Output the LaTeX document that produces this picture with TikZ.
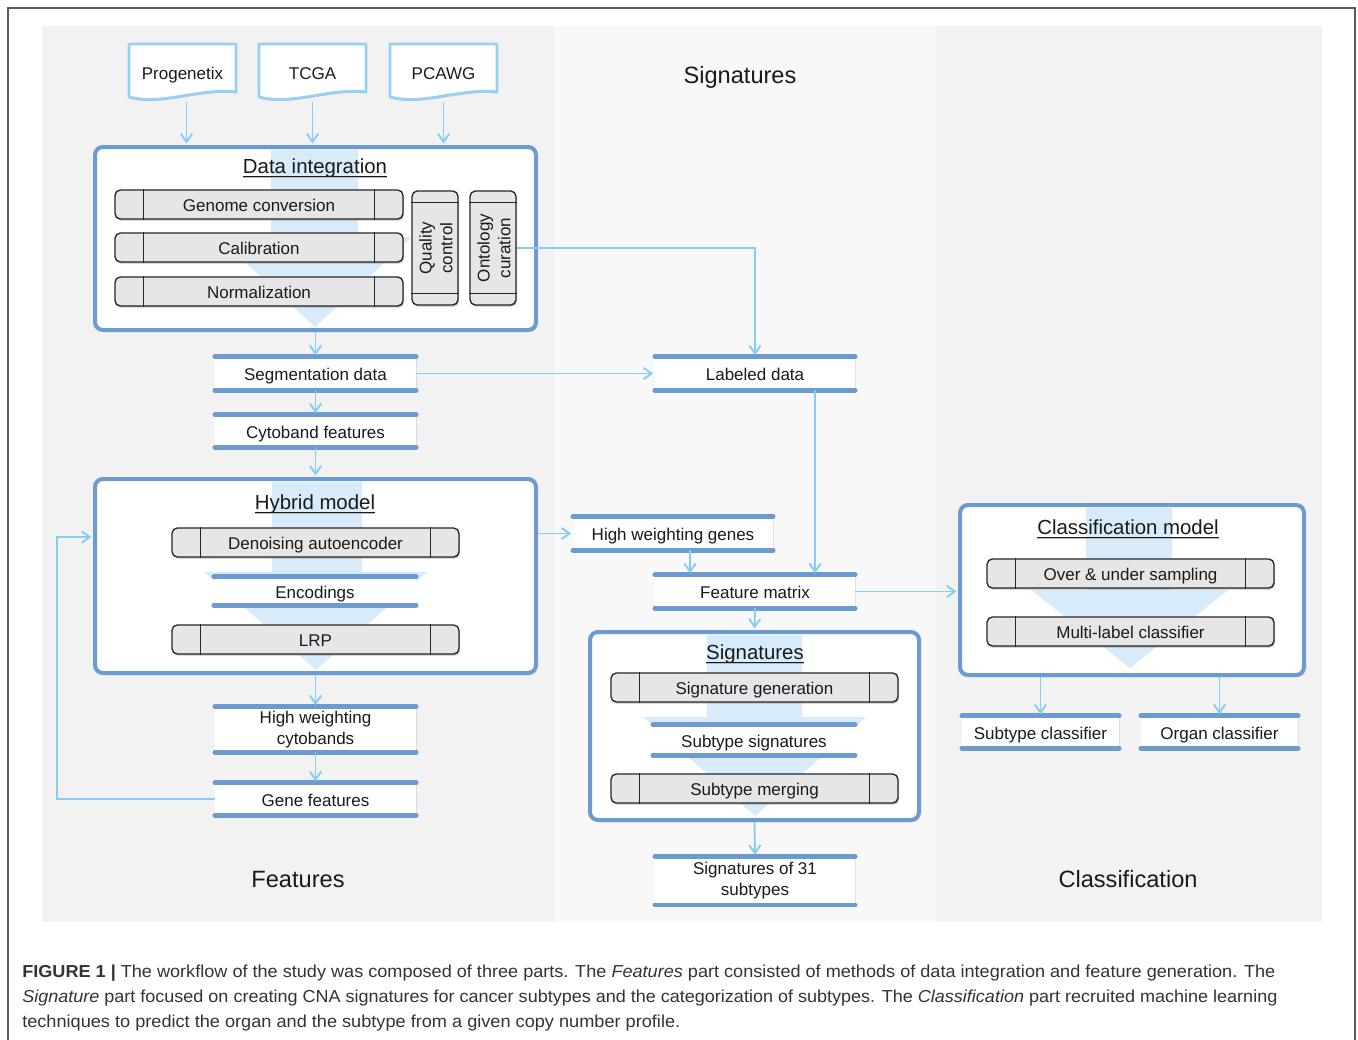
\documentclass[tikz,border=0pt]{standalone}
\usepackage{graphicx}
\usepackage{fontspec}
\setmainfont{Liberation Sans}
\usetikzlibrary{arrows.meta,shadows,calc}
\definecolor{panelA}{HTML}{F2F2F2}
\definecolor{panelB}{HTML}{F8F8F8}
\definecolor{cblue}{HTML}{6C9BD2}
\definecolor{arrblue}{HTML}{86CCF4}
\definecolor{bgarrow}{HTML}{D8EBFA}
\definecolor{docblue}{HTML}{96D0F3}
\definecolor{procgray}{HTML}{E6E6E6}
\definecolor{txt}{HTML}{1A1A1A}
\definecolor{captxt}{HTML}{333333}
\def\u{0.75pt}
\newcommand\dgbody{\fontsize{12.75}{15.6}\selectfont}
\newcommand\dgtitle{\fontsize{15.3}{18}\selectfont}
\newcommand\dgpanel{\fontsize{17.7}{21}\selectfont}
\newcommand\dgcap{\fontsize{13}{15}\selectfont}
\tikzset{
  arr/.style={draw=arrblue, line width=1.4pt, -{Straight Barb[length=6pt,width=8.5pt]}, shorten >=1.2pt},
  cont/.style={draw=cblue, line width=3pt, rounded corners=6pt, fill=white, inner sep=0,
    drop shadow={shadow xshift=1.2pt, shadow yshift=-1.5pt, opacity=0.3}},
  oneline/.style={text height=12.5pt, text depth=2pt},
  procn/.style={draw=black!85, line width=1pt, fill=procgray, rounded corners=4pt, inner sep=0,
    font=\dgbody, text=txt, oneline, drop shadow={shadow xshift=0.8pt, shadow yshift=-1.3pt, opacity=0.45}},
  procl/.style={draw=black!85, line width=1pt},
  barn/.style={fill=white, inner sep=0, font=\dgbody, text=txt, align=center,
    drop shadow={shadow xshift=0.8pt, shadow yshift=-1.2pt, opacity=0.18}},
  barnclear/.style={fill=white, inner sep=0, font=\dgbody, text=txt, align=center, oneline},
  barline/.style={draw=cblue, line width=3.4pt, line cap=round},
  docn/.style={inner sep=0, font=\dgbody, text=txt, oneline},
  docline/.style={draw=docblue, line width=2.2pt, fill=white, line join=round,
    drop shadow={shadow xshift=0.8pt, shadow yshift=-1pt, opacity=0.15}},
  ttl/.style={inner sep=0, font=\dgtitle, text=txt, text height=14pt, text depth=2pt},
  ptitle/.style={inner sep=0, font=\dgpanel, text=txt, text height=15.5pt, text depth=2pt},
  bgarr/.style={fill=bgarrow, draw=none},
}
\newcommand\procbox[5]{%
  \node[procn, minimum width=#4*\u, minimum height=29*\u] (#1) at (#2,#3) {#5};
  \draw[procl] ([xshift=29*\u]#1.north west) -- ([xshift=29*\u]#1.south west);
  \draw[procl] ([xshift=-29*\u]#1.north east) -- ([xshift=-29*\u]#1.south east);}
\newcommand\barbox[7][oneline]{%
  \node[barn, #1, minimum width=#5*\u, minimum height=#6*\u] (#2) at (#3,#4) {#7};
  \draw[barline] (#2.north west) -- (#2.north east);
  \draw[barline] (#2.south west) -- (#2.south east);}
\newcommand\barclear[6]{%
  \node[barnclear, minimum width=#4*\u, minimum height=#5*\u] (#1) at (#2,#3) {#6};
  \draw[barline] (#1.north west) -- (#1.north east);
  \draw[barline] (#1.south west) -- (#1.south east);}
\newcommand\docbox[4]{%
  \draw[docline] ({#2-53.5},{#3-28}) -- ({#2+53.5},{#3-28}) -- ({#2+53.5},{#3+20})
    .. controls ({#2+15},{#3+16}) and ({#2-20},{#3+34}) .. ({#2-53.5},{#3+25}) -- cycle;
  \node[docn, minimum width=107*\u, minimum height=56*\u] (#1) at (#2,#3) {#4};}
\newcommand\utitle[4]{%
  \node[ttl] (#1) at (#2,#3) {#4};
  \draw[gray!55, line width=0.8pt] ([yshift=-3.6pt]#1.base west) -- ([yshift=-3.6pt]#1.base east);
  \draw[txt, line width=0.8pt] ([yshift=-2.4pt]#1.base west) -- ([yshift=-2.4pt]#1.base east);}
\begin{document}
\begin{tikzpicture}[x=0.75pt, y=-0.75pt]
\useasboundingbox (0,0) rectangle (1358,1039);
\fill[white] (0,0) rectangle (1358,1039);
\draw[black!65, line width=1.3pt] (8,1045) -- (8,8) -- (1355,8) -- (1355,1045);
% panels
\fill[panelA] (42,26) rectangle (554,922);
\fill[panelB] (554,26) rectangle (936,922);
\fill[panelA] (936,26) rectangle (1322,922);
\node[ptitle] (tsig) at (740,74) {Signatures};
\node[ptitle] (tfeat) at (298,878) {Features};
\node[ptitle] (tcls) at (1128,878) {Classification};
% documents
\docbox{prog}{182.5}{72}{Progenetix}
\docbox{tcga}{312.5}{72}{TCGA}
\docbox{pcawg}{443.5}{72}{PCAWG}
% Data integration
\node[cont, minimum width=441*\u, minimum height=183*\u] (di) at (315.5,238.5) {};
\fill[bgarr] (271,150) -- (358,150) -- (358,237) -- (412,237) -- (315,327) -- (218,237) -- (271,237) -- cycle;
\utitle{dit}{315}{165}{Data integration}
\procbox{gc}{259}{204.5}{288}{Genome conversion}
\procbox{cal}{259}{247.5}{288}{Calibration}
\procbox{nrm}{259}{291.5}{288}{Normalization}
\node[procn, minimum width=46*\u, minimum height=114*\u] (qc) at (435,248) {};
\draw[procl] ([yshift=-12*\u]qc.north west) -- ([yshift=-12*\u]qc.north east);
\draw[procl] ([yshift=12*\u]qc.south west) -- ([yshift=12*\u]qc.south east);
\node[rotate=90, align=center, font=\dgbody, text=txt, inner sep=0] (qct) at (436,248) {Quality\\control};
\node[procn, minimum width=46*\u, minimum height=114*\u] (oc) at (493,248) {};
\draw[procl] ([yshift=-12*\u]oc.north west) -- ([yshift=-12*\u]oc.north east);
\draw[procl] ([yshift=12*\u]oc.south west) -- ([yshift=12*\u]oc.south east);
\node[rotate=90, align=center, font=\dgbody, text=txt, inner sep=0] (oct) at (494,248) {Ontology\\curation};
% bars column features
\barbox{seg}{315.5}{373.5}{201}{33}{Segmentation data}
\barbox{cyto}{315.5}{431}{201}{32}{Cytoband features}
\barbox{lab}{755}{373.5}{200}{33}{Labeled data}
% Hybrid model
\node[cont, minimum width=441*\u, minimum height=194*\u] (hm) at (315.5,576) {};
\fill[bgarr] (272,482) -- (362,482) -- (362,572) -- (427,572) -- (316,670) -- (204,572) -- (272,572) -- cycle;
\utitle{hmt}{315}{501}{Hybrid model}
\procbox{dae}{315.5}{542.5}{287}{Denoising autoencoder}
\barclear{enc}{315}{591}{202}{28}{Encodings}
\procbox{lrp}{315.5}{639.5}{287}{LRP}
\barbox[]{hwc}{315.5}{729.5}{201}{45}{High weighting\\cytobands}
\barbox{gene}{315.5}{799}{201}{32}{Gene features}
% middle column
\barbox{hwg}{673}{533.5}{200}{33}{High weighting genes}
\barbox{fm}{755}{591.5}{200}{33}{Feature matrix}
\node[cont, minimum width=329*\u, minimum height=188*\u] (sig) at (754.5,726) {};
\fill[bgarr] (707,635) -- (802,635) -- (802,717) -- (866,717) -- (755,816) -- (643,717) -- (707,717) -- cycle;
\utitle{sigt}{755}{651}{Signatures}
\procbox{sgen}{754.5}{687.5}{287}{Signature generation}
\barclear{ssig}{754}{740}{202}{30}{Subtype signatures}
\procbox{smrg}{754.5}{788.5}{287}{Subtype merging}
\barbox[]{s31}{755}{880.5}{200}{48}{Signatures of 31\\subtypes}
% classification
\node[cont, minimum width=344*\u, minimum height=170*\u] (cls) at (1132,590) {};
\fill[bgarr] (1086,508) -- (1172,508) -- (1172,590) -- (1228,590) -- (1130,668) -- (1031,590) -- (1086,590) -- cycle;
\utitle{clst}{1128}{526}{Classification model}
\procbox{ous}{1130.5}{573.5}{287}{Over \& under sampling}
\procbox{mlc}{1130.5}{631.5}{287}{Multi-label classifier}
\barbox{subc}{1040.5}{732}{157}{32}{Subtype classifier}
\barbox{orgc}{1219.5}{732}{157}{32}{Organ classifier}
% connectors
\coordinate (p1) at ([xshift=4*\u, yshift=-2*\u]prog.south);
\coordinate (p2) at ([yshift=-2*\u]tcga.south);
\coordinate (p3) at ([yshift=-2*\u]pcawg.south);
\draw[arr] (p1) -- (p1 |- di.north);
\draw[arr] (p2) -- (p2 |- di.north);
\draw[arr] (p3) -- (p3 |- di.north);
\draw[arr] (di.south) -- (seg.north);
\draw[arr] (seg.south) -- (cyto.north);
\draw[arr] (seg.east) -- (lab.west);
\draw[arr] (oc.east) -- (oc.east -| lab.north) -- (lab.north);
\draw[arr] (cyto.south) -- (hm.north);
\draw[arr] (hm.south) -- (hwc.north);
\draw[arr] (hwc.south) -- (gene.north);
\coordinate (fb) at (57,537);
\draw[arr] (gene.west) -| (fb) -- (fb -| hm.west);
\draw[arr] (hwg.west -| hm.east) -- (hwg.west);
\draw[arr] ([xshift=17*\u]hwg.south) -- ([xshift=-65*\u]fm.north);
\draw[arr] ([xshift=60*\u]lab.south) -- ([xshift=60*\u]fm.north);
\draw[arr] (fm.east) -- (fm.east -| cls.west);
\draw[arr] (fm.south) -- (sig.north);
\draw[arr] (sig.south) -- (s31.north);
\draw[arr] (subc.north |- cls.south) -- (subc.north);
\draw[arr] (orgc.north |- cls.south) -- (orgc.north);
% caption
\node[anchor=base west, inner sep=0, text=captxt, font=\dgcap] (cap1) at (22,977)
  {\resizebox{939.75pt}{\height}{\textbf{FIGURE 1 |} The workflow of the study was composed of three parts. The \textit{Features} part consisted of methods of data integration and feature generation. The}};
\node[anchor=base west, inner sep=0, text=captxt, font=\dgcap] (cap2) at (22,1002.5)
  {\resizebox{941.25pt}{\height}{\textit{Signature} part focused on creating CNA signatures for cancer subtypes and the categorization of subtypes. The \textit{Classification} part recruited machine learning}};
\node[anchor=base west, inner sep=0, text=captxt, font=\dgcap] (cap3) at (22,1027.5)
  {\resizebox{493.5pt}{\height}{techniques to predict the organ and the subtype from a given copy number profile.}};
\end{tikzpicture}
\end{document}
